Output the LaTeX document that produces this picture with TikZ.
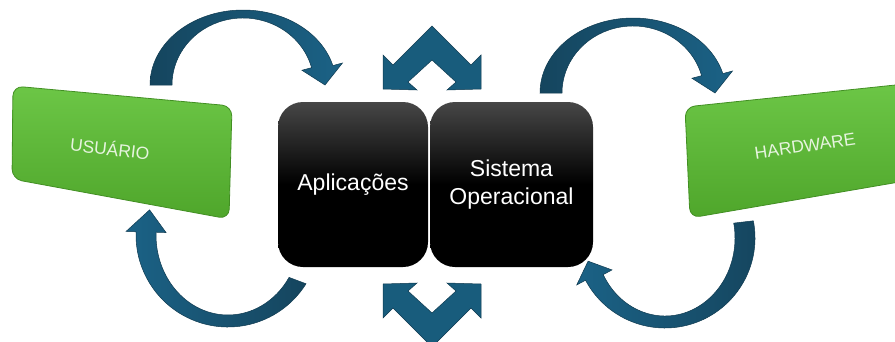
\documentclass[tikz,border=0pt]{standalone}
\usepackage{fontspec}
\setmainfont{Liberation Sans}
\usetikzlibrary{calc}
\definecolor{arrowdark}{HTML}{15455E}
\definecolor{arrowlight}{HTML}{1B6286}
\definecolor{arrowline}{HTML}{0F3A50}
\definecolor{chevfill}{HTML}{185C7C}
\definecolor{greentop}{HTML}{6CC646}
\definecolor{greenbot}{HTML}{4FA62B}
\definecolor{greenedge}{HTML}{428F23}
\definecolor{greentext}{HTML}{E6F4DE}
\definecolor{boxtop}{HTML}{474747}
\newcommand{\bluearc}[9]{%
 \pgfmathsetmacro{\oRx}{#3+10}\pgfmathsetmacro{\oRy}{#4+10}%
 \pgfmathsetmacro{\iRx}{#5-10}\pgfmathsetmacro{\iRy}{#6-10}%
 \pgfmathsetmacro{\mRx}{(#3+#5)/2}\pgfmathsetmacro{\mRy}{(#4+#6)/2}%
 \pgfmathsetmacro{\tipA}{#8+#9}%
 \shadedraw[#1] ($#2+(#7:#3 and #4)$) arc[start angle=#7,end angle=#8,x radius=#3,y radius=#4]
   -- ($#2+(#8:\oRx\space and \oRy)$) -- ($#2+(\tipA:\mRx\space and \mRy)$) -- ($#2+(#8:\iRx\space and \iRy)$)
   -- ($#2+(#8:#5 and #6)$) arc[start angle=#8,end angle=#7,x radius=#5,y radius=#6] -- cycle;}
\begin{document}
\begin{tikzpicture}[x=1pt,y=-1pt,
  blackbox/.style={rectangle, rounded corners=25pt, minimum width=#1, minimum height=165pt,
    top color=boxtop, bottom color=black, middle color=black, text=white,
    font=\fontsize{23}{28}\selectfont, align=center, inner sep=0pt},
  greenlbl/.style={text=greentext, font=\fontsize{17.5}{20}\selectfont, inner sep=0pt},
  greenshape/.style={rounded corners=10pt, top color=greentop, bottom color=greenbot, draw=greenedge, line width=0.8pt},
  chevron/.style={fill=chevfill, draw=arrowline, line width=0.5pt, line join=miter},
  arrowA/.style={left color=arrowdark, right color=arrowlight, draw=arrowline, line width=0.5pt},
  arrowB/.style={left color=arrowlight, right color=arrowdark, draw=arrowline, line width=0.5pt}]
\useasboundingbox (0,0) rectangle (895,341);
\clip (0,0) rectangle (895,341);
% curved arrows
\bluearc{arrowA}{(243,85)}{93}{75}{71}{67}{180}{345}{15}
\bluearc{arrowB}{(228,235)}{92}{92}{72}{80}{32}{182}{15}
\bluearc{arrowA}{(633,93)}{93}{75}{71}{67}{180}{345}{15}
\bluearc{arrowB}{(665,238)}{90}{90}{70}{78}{-11}{152}{12}
% chevrons
\draw[chevron] (432,26) -- (471,65) -- (481,55) -- (481,89) -- (447,90) -- (456,82) -- (432,60)
  -- (408,82) -- (417,90) -- (383,89) -- (383,55) -- (393,65) -- cycle;
\draw[chevron] (432,347) -- (471,308) -- (481,318) -- (481,284) -- (447,283) -- (456,291) -- (432,313)
  -- (408,291) -- (417,283) -- (383,284) -- (383,318) -- (393,308) -- cycle;
% green boxes
\path[greenshape] (13,86) -- (232,106) -- (229,219) -- (12,179) -- cycle;
\node[greenlbl, rotate=-6.5] (usuario) at (110,148) {USUÁRIO};
\path[greenshape] (685,107) -- (905,84) -- (905,181) -- (690,218) -- cycle;
\node[greenlbl, rotate=8.5] (hardware) at (805,146) {HARDWARE};
% black boxes
\node[blackbox=150pt] (apl) at (353,184.5) {Aplicações};
\node[blackbox=163pt] (so) at (511.5,184.5) {Sistema\\Operacional};
\end{tikzpicture}
\end{document}
